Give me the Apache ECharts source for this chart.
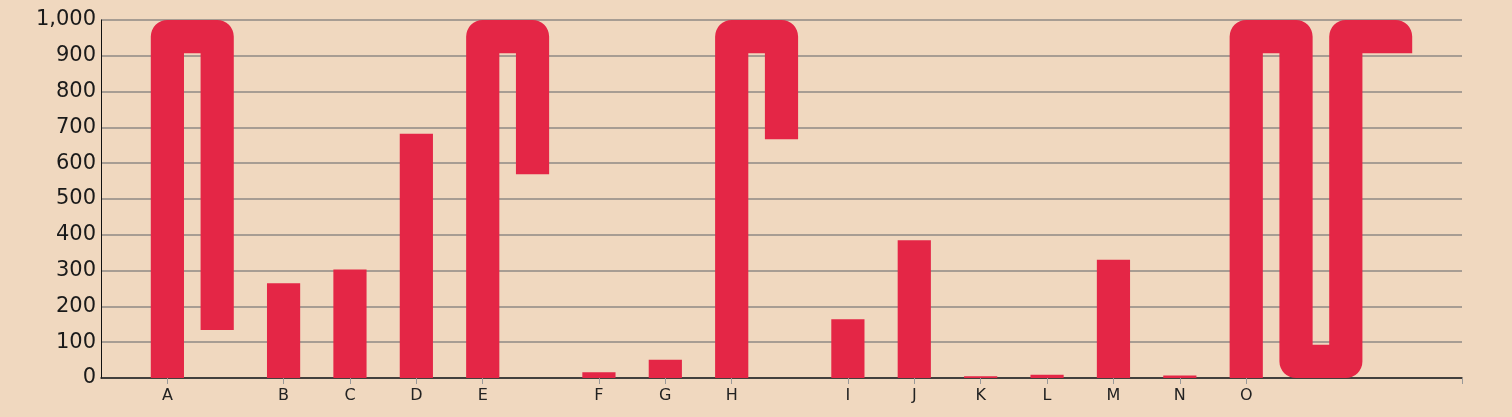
<!DOCTYPE html>
<html>
<head>
<meta charset="utf-8">
<script src="https://cdn.jsdelivr.net/npm/echarts@6/dist/echarts.min.js"></script>
<style>
  html, body { margin: 0; padding: 0; background: #F0D8BF; }
  #chart { width: 1512px; height: 417px; }
</style>
</head>
<body>
<div id="chart"></div>
<script>
// ---- data ----
const categories = ['A','B','C','D','E','F','G','H','I','J','K','L','M','N','O'];
const values     = [1866, 265, 303, 682, 1431, 16, 51, 1333, 164, 385, 5, 9, 330, 7, 3093];
const yTicks     = [0, 100, 200, 300, 400, 500, 600, 700, 800, 900, 1000];
const WRAP = 1000; // values wrap around once they reach the top of the axis

// ---- layout in x units (bar width = 2 units) derived from the data ----
const centers = [];
let pos = 4;
values.forEach(v => {
  centers.push(pos);
  const cols = Math.max(1, Math.ceil(v / WRAP));
  pos += (cols - 1) * 3 + 4;
});
const xMax = pos;

const chart = echarts.init(document.getElementById('chart'));

function renderItem(params, api) {
  const idx = api.value(0);
  const v = api.value(1);
  const c = centers[idx];
  const w = api.size([2, 0])[0];
  const y0 = api.coord([0, 0])[1];
  const yTop = api.coord([0, WRAP])[1] + w / 2;
  const yBot = y0 - w / 2;
  const cols = Math.max(1, Math.ceil(v / WRAP));
  const pts = [];
  for (let k = 0; k < cols; k++) {
    const x = api.coord([c + k * 3, 0])[0];
    const seg = Math.min(WRAP, v - k * WRAP);
    const up = k % 2 === 0;
    if (k === 0) pts.push([x, y0]);
    else pts.push([x, up ? yBot : yTop]);
    if (up) {
      if (seg >= WRAP) pts.push([x, yTop]);
      else {
        let y = api.coord([0, seg])[1];
        if (k > 0) y = Math.min(y, yBot - w / 2);
        pts.push([x, y]);
      }
    } else {
      if (seg >= WRAP) pts.push([x, yBot]);
      else {
        let y = api.coord([0, WRAP - seg])[1];
        y = Math.max(y, yTop + w / 2);
        pts.push([x, y]);
      }
    }
  }
  return {
    type: 'polyline',
    shape: { points: pts },
    style: {
      stroke: '#E42646',
      fill: null,
      lineWidth: w,
      lineJoin: 'round',
      lineCap: 'butt'
    }
  };
}

const labelByPos = {};
centers.forEach((c, i) => { labelByPos[c] = categories[i]; });

chart.setOption({
  backgroundColor: '#F0D8BF',
  animation: false,
  grid: { left: 101, right: 50, top: 20, bottom: 39, containLabel: false },
  xAxis: {
    type: 'value',
    min: 0,
    max: xMax,
    splitLine: { show: false },
    axisLine: { show: true, lineStyle: { color: '#222', width: 1.5 } },
    axisTick: {
      show: true,
      length: 6,
      customValues: centers.concat([xMax]),
      lineStyle: { color: '#999', width: 1 }
    },
    axisLabel: {
      show: true,
      customValues: centers,
      formatter: val => labelByPos[val] || '',
      margin: 10,
      fontFamily: 'DejaVu Sans',
      fontSize: 16,
      color: '#222'
    }
  },
  yAxis: {
    type: 'value',
    min: 0,
    max: 1000,
    interval: 100,
    axisLine: { show: true, lineStyle: { color: '#111', width: 1 } },
    axisTick: { show: false },
    splitLine: { show: true, lineStyle: { color: '#8f8a84', width: 1.5 } },
    axisLabel: {
      margin: 5,
      fontFamily: 'DejaVu Sans',
      fontSize: 21,
      color: '#1a1a1a',
      formatter: v => yTicks.indexOf(v) >= 0 ? v.toLocaleString('en-US') : ''
    }
  },
  series: [{
    type: 'custom',
    renderItem: renderItem,
    clip: false,
    encode: { x: 0, y: 1 },
    data: values.map((v, i) => [i, v])
  }]
});
</script>
</body>
</html>
